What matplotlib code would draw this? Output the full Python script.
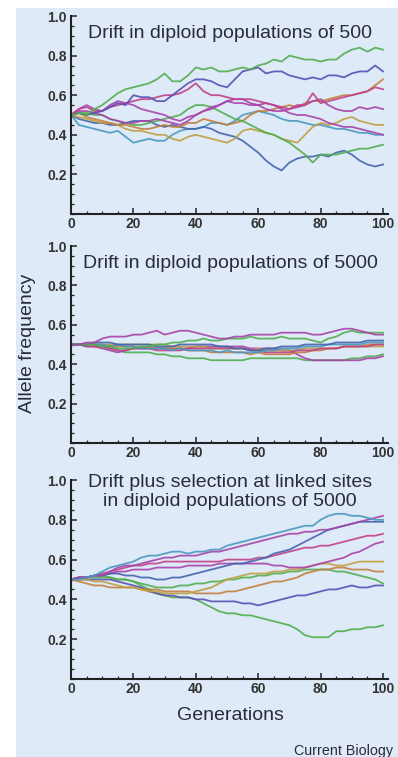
import matplotlib
matplotlib.use("Agg")
import matplotlib.pyplot as plt
from matplotlib.patches import Rectangle
from matplotlib.ticker import MultipleLocator

plt.rcParams['font.family'] = ['Liberation Sans', 'DejaVu Sans']

generations = [i * 2.5 for i in range(41)]

# Panel 1: drift, N = 500
p1_green_a = [.50, .51, .50, .53, .55, .58, .61, .63, .64, .65, .66, .68, .71, .67, .67, .70, .74, .73, .74, .72, .72, .73, .74, .73, .75, .76, .78, .77, .80, .79, .78, .78, .77, .78, .78, .81, .83, .84, .82, .84, .83]
p1_indigo = [.50, .51, .50, .51, .52, .54, .56, .55, .60, .59, .59, .57, .57, .60, .63, .66, .68, .68, .67, .65, .64, .68, .72, .73, .74, .71, .72, .72, .70, .69, .68, .69, .68, .70, .70, .69, .71, .72, .72, .75, .72]
p1_orange = [.50, .51, .49, .48, .47, .46, .45, .45, .44, .43, .43, .44, .45, .44, .44, .46, .46, .48, .47, .46, .45, .46, .47, .50, .52, .52, .53, .54, .55, .54, .56, .57, .57, .58, .59, .60, .60, .61, .62, .65, .68]
p1_magenta = [.50, .53, .54, .52, .52, .54, .55, .56, .57, .58, .58, .59, .60, .60, .61, .63, .66, .62, .60, .60, .59, .58, .58, .58, .57, .56, .55, .54, .53, .55, .55, .61, .56, .57, .58, .59, .60, .61, .62, .64, .63]
p1_purple_a = [.50, .53, .55, .53, .52, .55, .57, .56, .55, .53, .52, .51, .50, .48, .47, .49, .50, .52, .53, .55, .57, .58, .58, .56, .55, .53, .52, .52, .53, .54, .55, .57, .58, .55, .53, .52, .52, .54, .53, .54, .53]
p1_purple_b = [.50, .52, .52, .51, .50, .48, .47, .46, .46, .47, .47, .48, .47, .46, .45, .47, .50, .52, .54, .55, .57, .56, .56, .55, .55, .56, .55, .53, .51, .50, .50, .49, .48, .46, .45, .44, .44, .43, .42, .41, .40]
p1_gold = [.50, .49, .48, .47, .46, .46, .45, .43, .42, .42, .41, .40, .40, .38, .37, .39, .40, .39, .38, .37, .36, .38, .42, .43, .42, .41, .40, .38, .37, .36, .40, .44, .46, .45, .46, .48, .49, .47, .46, .45, .45]
p1_teal = [.50, .45, .44, .43, .42, .41, .42, .39, .36, .37, .38, .37, .37, .40, .42, .43, .43, .44, .46, .46, .45, .47, .50, .51, .52, .51, .50, .48, .47, .47, .46, .45, .45, .44, .43, .43, .42, .41, .41, .40, .40]
p1_green_b = [.50, .51, .51, .50, .50, .48, .47, .46, .45, .45, .46, .47, .48, .49, .50, .53, .55, .55, .54, .52, .50, .48, .47, .45, .43, .41, .40, .38, .36, .33, .30, .26, .30, .30, .30, .31, .32, .33, .33, .34, .35]
p1_steel = [.50, .48, .47, .46, .46, .45, .45, .46, .47, .47, .47, .45, .44, .45, .44, .43, .43, .44, .43, .41, .40, .39, .37, .34, .31, .27, .24, .22, .26, .28, .29, .29, .30, .29, .31, .32, .30, .27, .25, .24, .25]

# Panel 2: drift, N = 5000
p2_purple_a = [.50, .50, .51, .51, .53, .54, .54, .54, .55, .55, .56, .57, .55, .56, .57, .57, .56, .55, .54, .53, .53, .54, .54, .55, .55, .55, .55, .56, .56, .56, .56, .55, .55, .56, .57, .58, .58, .57, .56, .55, .55]
p2_green_a = [.50, .50, .50, .50, .49, .49, .48, .48, .48, .49, .49, .50, .50, .51, .51, .52, .52, .53, .52, .52, .53, .53, .53, .54, .53, .53, .53, .54, .53, .53, .53, .52, .51, .53, .54, .56, .57, .56, .56, .56, .56]
p2_indigo = [.50, .50, .50, .51, .51, .51, .50, .50, .50, .50, .50, .49, .49, .49, .50, .50, .50, .50, .50, .49, .49, .48, .48, .47, .47, .48, .48, .49, .49, .49, .50, .50, .50, .50, .51, .51, .51, .51, .52, .52, .52]
p2_teal = [.50, .50, .50, .50, .50, .49, .50, .49, .49, .48, .48, .48, .48, .47, .48, .47, .47, .47, .47, .46, .47, .46, .46, .46, .46, .47, .47, .48, .48, .48, .49, .49, .49, .50, .50, .50, .50, .50, .51, .51, .51]
p2_orange = [.50, .50, .50, .49, .49, .49, .49, .49, .49, .48, .49, .48, .48, .48, .48, .47, .47, .47, .46, .46, .46, .46, .46, .45, .46, .45, .45, .45, .45, .46, .46, .47, .47, .48, .48, .49, .49, .49, .50, .50, .50]
p2_gold = [.50, .50, .50, .50, .50, .50, .50, .50, .50, .50, .50, .50, .50, .49, .49, .49, .49, .49, .48, .48, .48, .48, .48, .47, .48, .47, .47, .47, .47, .47, .48, .48, .48, .48, .48, .49, .49, .49, .49, .49, .49]
p2_magenta = [.50, .50, .49, .49, .49, .48, .47, .47, .48, .48, .48, .47, .47, .47, .47, .48, .48, .48, .48, .48, .48, .48, .48, .47, .47, .46, .46, .46, .46, .47, .47, .47, .48, .48, .48, .49, .49, .49, .49, .50, .50]
p2_purple_b = [.50, .50, .49, .49, .48, .47, .46, .47, .48, .48, .48, .48, .48, .48, .48, .48, .49, .49, .49, .49, .49, .49, .49, .48, .48, .48, .48, .47, .47, .45, .43, .42, .42, .42, .42, .42, .42, .42, .43, .43, .44]
p2_green_b = [.50, .50, .50, .49, .49, .48, .47, .46, .46, .46, .46, .45, .45, .44, .44, .43, .43, .43, .42, .42, .42, .42, .42, .43, .43, .43, .43, .43, .43, .43, .42, .42, .42, .42, .42, .42, .43, .43, .44, .44, .45]

# Panel 3: drift plus selection at linked sites, N = 5000
p3_teal = [.50, .50, .51, .52, .54, .56, .57, .58, .59, .61, .62, .62, .63, .64, .64, .63, .64, .64, .65, .65, .67, .68, .69, .70, .71, .72, .73, .74, .75, .76, .77, .77, .80, .82, .83, .83, .82, .82, .81, .80, .80]
p3_purple = [.50, .51, .51, .52, .52, .54, .56, .57, .57, .58, .59, .60, .61, .61, .62, .62, .62, .63, .64, .64, .65, .66, .67, .68, .69, .70, .71, .72, .73, .73, .74, .74, .75, .75, .76, .77, .78, .79, .80, .81, .82]
p3_steel = [.50, .51, .51, .52, .52, .53, .53, .52, .52, .51, .51, .50, .50, .51, .51, .52, .53, .54, .55, .56, .57, .58, .58, .59, .60, .61, .63, .64, .65, .67, .69, .71, .73, .75, .76, .77, .78, .79, .79, .79, .79]
p3_magenta = [.50, .51, .51, .52, .53, .54, .55, .56, .57, .57, .58, .58, .59, .59, .59, .59, .59, .59, .59, .59, .60, .60, .60, .60, .61, .61, .62, .63, .64, .65, .66, .66, .67, .67, .68, .69, .70, .71, .72, .72, .73]
p3_pink = [.50, .51, .51, .52, .52, .53, .54, .54, .55, .55, .55, .56, .56, .56, .56, .57, .57, .57, .57, .58, .58, .58, .58, .58, .58, .58, .57, .57, .56, .56, .56, .57, .58, .59, .60, .61, .63, .64, .66, .68, .69]
p3_gold = [.50, .50, .50, .49, .49, .48, .47, .46, .46, .45, .44, .44, .43, .43, .43, .43, .44, .45, .46, .48, .50, .51, .52, .53, .53, .53, .54, .54, .55, .55, .56, .57, .58, .58, .57, .57, .58, .59, .59, .59, .59]
p3_orange = [.50, .49, .48, .47, .47, .46, .46, .46, .46, .45, .45, .45, .44, .44, .44, .44, .43, .43, .43, .43, .44, .44, .45, .46, .47, .48, .49, .49, .50, .51, .53, .54, .55, .55, .56, .56, .55, .55, .55, .54, .54]
p3_green_a = [.50, .51, .51, .51, .51, .51, .50, .50, .49, .48, .47, .46, .46, .46, .47, .47, .48, .48, .49, .49, .50, .50, .51, .51, .52, .52, .53, .53, .54, .54, .55, .55, .55, .55, .54, .54, .53, .52, .51, .50, .48]
p3_indigo = [.50, .50, .50, .50, .50, .50, .49, .48, .47, .46, .44, .43, .42, .42, .41, .41, .40, .40, .39, .39, .39, .39, .38, .38, .37, .38, .39, .40, .41, .42, .42, .43, .44, .45, .45, .46, .47, .46, .46, .47, .47]
p3_green_b = [.50, .51, .51, .52, .52, .51, .50, .50, .49, .47, .45, .43, .42, .41, .41, .41, .40, .38, .36, .34, .33, .33, .32, .32, .31, .30, .29, .28, .27, .25, .22, .21, .21, .21, .24, .24, .25, .25, .26, .26, .27]

titles = ["Drift in diploid populations of 500",
          "Drift in diploid populations of 5000",
          "Drift plus selection at linked sites\nin diploid populations of 5000"]
y_ticks = [0.2, 0.4, 0.6, 0.8, 1.0]
x_ticks = [0, 20, 40, 60, 80, 100]

C_GREEN = '#52ad4e'
C_INDIGO = '#5a4fb4'
C_ORANGE = '#c47f3c'
C_MAGENTA = '#c0428a'
C_PURPLE = '#a844a8'
C_GOLD = '#bfa040'
C_TEAL = '#4a98bf'
C_STEEL = '#4564ad'

panel1 = [(p1_teal, C_TEAL), (p1_steel, C_STEEL), (p1_gold, C_GOLD), (p1_orange, C_ORANGE),
          (p1_green_b, C_GREEN), (p1_purple_b, C_PURPLE), (p1_purple_a, C_PURPLE),
          (p1_magenta, C_MAGENTA), (p1_indigo, C_INDIGO), (p1_green_a, C_GREEN)]
panel2 = [(p2_green_b, C_GREEN), (p2_purple_b, C_PURPLE), (p2_gold, C_GOLD), (p2_orange, C_ORANGE),
          (p2_magenta, C_MAGENTA), (p2_teal, C_TEAL), (p2_indigo, C_STEEL), (p2_green_a, C_GREEN),
          (p2_purple_a, C_PURPLE)]
panel3 = [(p3_green_b, C_GREEN), (p3_indigo, C_INDIGO), (p3_green_a, C_GREEN), (p3_orange, C_ORANGE),
          (p3_gold, C_GOLD), (p3_pink, C_PURPLE), (p3_magenta, C_MAGENTA), (p3_steel, C_STEEL),
          (p3_purple, C_PURPLE), (p3_teal, C_TEAL)]

W, H = 398, 757
fig = plt.figure(figsize=(W / 100, H / 100), dpi=100)
fig.patch.set_facecolor('white')
fig.patches.append(Rectangle((16 / W, 0), 1 - 16 / W, 1 - 8 / H, transform=fig.transFigure,
                             facecolor='#deeaf8', edgecolor='none', zorder=-10))

# (pixel row of y=0, pixel row of y=1)
rows = [(214, 16), (443, 246), (679, 480)]
left_px = 71
xmax = 101.5
width_px = 3.12 * xmax
title_y = [33, 263, 492]

for i, (panel, (y0, y1)) in enumerate(zip([panel1, panel2, panel3], rows)):
    ax = fig.add_axes([left_px / W, 1 - y0 / H, width_px / W, (y0 - y1) / H])
    ax.set_facecolor('none')
    for vals, col in panel:
        ax.plot(generations[:len(vals)], vals, color=col, lw=1.3, alpha=0.9,
                solid_joinstyle='round')
    ax.set_xlim(0, xmax)
    ax.set_ylim(0, 1.0)
    ax.spines['top'].set_visible(False)
    ax.spines['right'].set_visible(False)
    for s in ('left', 'bottom'):
        ax.spines[s].set_linewidth(1.5)
        ax.spines[s].set_color('#222222')
    ax.set_yticks(y_ticks)
    ax.set_yticklabels([f"{v:.1f}" for v in y_ticks])
    ax.set_xticks(x_ticks)
    ax.yaxis.set_minor_locator(MultipleLocator(0.05))
    ax.xaxis.set_minor_locator(MultipleLocator(5))
    ax.tick_params(which='major', direction='in', length=4, width=1.1, color='#222222',
                   labelsize=10, labelcolor='#333333', pad=3)
    ax.tick_params(which='minor', direction='in', length=2.5, width=0.9, color='#222222')
    ax.tick_params(axis='x', pad=2)
    for lab in ax.get_xticklabels() + ax.get_yticklabels():
        lab.set_fontweight('bold')
    fig.text(230 / W, 1 - title_y[i] / H, titles[i],
             ha='center', va='center', fontsize=14, color='#2a2a3a', linespacing=1.1)

fig.text(27 / W, 1 - 343 / H, "Allele frequency", rotation=90, ha='center', va='center',
         fontsize=14, color='#2a2a3a')
fig.text(230 / W, 1 - 716 / H, "Generations", ha='center', va='center',
         fontsize=14, color='#2a2a3a')
fig.text(393 / W, 1 - 751 / H, "Current Biology", ha='right', va='center',
         fontsize=10.3, color='#2a2a3a')

fig.savefig("out.png", dpi=100)
